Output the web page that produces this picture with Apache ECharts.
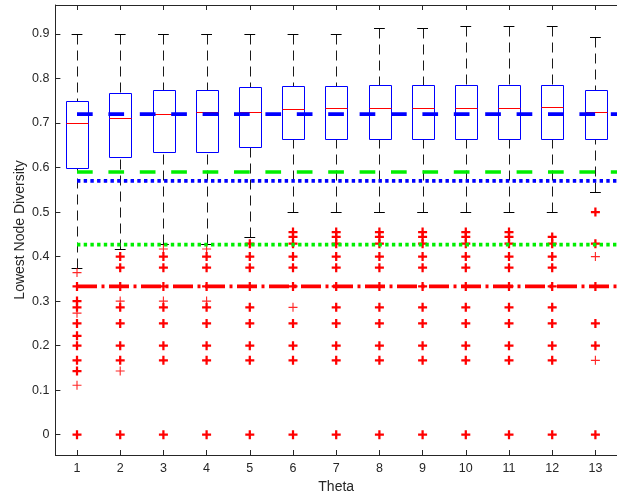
<!DOCTYPE html>
<html><head><meta charset="utf-8">
<script src="https://cdn.jsdelivr.net/npm/echarts@6/dist/echarts.min.js"></script>
<style>html,body{margin:0;padding:0;background:#fff}#c{width:617px;height:502px}</style>
</head><body><div id="c"></div>
<script>
// ---- data ----
const thetas = [1,2,3,4,5,6,7,8,9,10,11,12,13];
const yTicks = [0,0.1,0.2,0.3,0.4,0.5,0.6,0.7,0.8,0.9];
const whiskerLow  = [0.375,0.417,0.429,0.429,0.444,0.5,0.5,0.5,0.5,0.5,0.5,0.5,0.545];
const q1          = [0.600,0.624,0.635,0.635,0.646,0.665,0.665,0.665,0.665,0.665,0.665,0.665,0.665];
const medians     = [0.700,0.712,0.720,0.725,0.725,0.731,0.734,0.734,0.734,0.734,0.734,0.737,0.725];
const q3          = [0.750,0.767,0.775,0.775,0.780,0.783,0.783,0.786,0.786,0.786,0.786,0.786,0.775];
const whiskerHigh = [0.900,0.900,0.900,0.900,0.900,0.900,0.900,0.913,0.913,0.918,0.918,0.918,0.893];
const outliersMany = [
  [0.333,0.3,0.286,0.25,0.222,0.2,0.167,0.143,0],
  [0.4,0.375,0.333,0.286,0.25,0.2,0.167,0],
  [0.4,0.375,0.333,0.286,0.25,0.2,0.167,0],
  [0.4,0.375,0.333,0.286,0.25,0.2,0.167,0],
  [0.429,0.4,0.375,0.333,0.286,0.25,0.2,0.167,0],
  [0.455,0.444,0.429,0.4,0.375,0.333,0.25,0.2,0.167,0],
  [0.455,0.444,0.429,0.4,0.375,0.333,0.286,0.25,0.2,0.167,0],
  [0.455,0.444,0.429,0.4,0.375,0.333,0.286,0.25,0.2,0.167,0],
  [0.455,0.444,0.429,0.4,0.375,0.333,0.286,0.25,0.2,0.167,0],
  [0.455,0.444,0.429,0.4,0.375,0.333,0.286,0.25,0.2,0.167,0],
  [0.455,0.444,0.429,0.4,0.375,0.333,0.286,0.25,0.2,0.167,0],
  [0.444,0.429,0.4,0.375,0.333,0.286,0.25,0.2,0.167,0],
  [0.5,0.429,0.333,0.25,0.2,0]
];
const outliersSingle = [
  [0.364,0.273,0.111],
  [0.3,0.143],
  [0.417,0.3],
  [0.417,0.3],
  [],
  [0.286],
  [],[],[],[],[],[],
  [0.4,0.167]
];
const refBlueDashed = 0.72;
const refGreenDashed = 0.59;
const refBlueDotted = 0.57;
const refGreenDotted = 0.427;
const refRedDashDot = 0.333;

// ---- chart ----
const FONT = '"Liberation Sans", Arial, Helvetica, sans-serif';
const AXC = '#262626';
const chart = echarts.init(document.getElementById('c'), null, {renderer: 'canvas'});

const boxData = thetas.map((t, i) => [t, whiskerLow[i], q1[i], medians[i], q3[i], whiskerHigh[i]]);
const manyPts = [], singlePts = [];
thetas.forEach((t, i) => {
  outliersMany[i].forEach(v => manyPts.push([t, v]));
  outliersSingle[i].forEach(v => singlePts.push([t, v]));
});

const px = v => Math.round(v) + 0.5;

function renderBox(params, api) {
  const x = api.value(0);
  const c = api.coord([x, 0])[0];
  const hw = api.size([0.25, 0])[0];
  const cw = api.size([0.125, 0])[0];
  const yLo = api.coord([x, api.value(1)])[1];
  const yQ1 = api.coord([x, api.value(2)])[1];
  const yMed = api.coord([x, api.value(3)])[1];
  const yQ3 = api.coord([x, api.value(4)])[1];
  const yHi = api.coord([x, api.value(5)])[1];
  const cx = px(c);
  const whisk = {stroke: '#1a1a1a', lineWidth: 1, lineDash: [10, 6], fill: null};
  const cap = {stroke: '#000', lineWidth: 1, fill: null};
  return {
    type: 'group',
    children: [
      {type: 'line', shape: {x1: cx, y1: px(yHi), x2: cx, y2: px(yQ3)}, style: whisk},
      {type: 'line', shape: {x1: cx, y1: px(yLo), x2: cx, y2: px(yQ1)}, style: whisk},
      {type: 'line', shape: {x1: c - cw, y1: px(yHi), x2: c + cw, y2: px(yHi)}, style: cap},
      {type: 'line', shape: {x1: c - cw, y1: px(yLo), x2: c + cw, y2: px(yLo)}, style: cap},
      {type: 'rect', shape: {x: px(c - hw), y: px(yQ3), width: Math.round(2 * hw), height: Math.round(yQ1 - yQ3)},
        style: {stroke: '#0000ff', lineWidth: 1, fill: null}},
      {type: 'line', shape: {x1: px(c - hw), y1: px(yMed), x2: px(c - hw) + Math.round(2 * hw), y2: px(yMed)},
        style: {stroke: '#ff0000', lineWidth: 1}}
    ]
  };
}

function refLine(v, color, dash) {
  return {
    type: 'line', data: [[thetas[0], v], [13.5, v]], symbol: 'none', silent: true, z: 5,
    lineStyle: {color: color, width: 3.7, type: dash, cap: 'butt', opacity: 1}, animation: false
  };
}

const plusBold = 'path://M3,0H5V3H8V5H5V8H3V5H0V3H3Z';
const plusThin = 'path://M3.5,0H4.5V3.5H8V4.5H4.5V8H3.5V4.5H0V3.5H3.5Z';

const axisCommon = {
  type: 'value', min: 0.5, max: 13.5,
  splitLine: {show: false},
  axisLine: {show: true, onZero: false, lineStyle: {color: AXC, width: 1}},
  axisTick: {show: true, inside: true, length: 5, customValues: thetas, lineStyle: {color: AXC}},
};

chart.setOption({
  animation: false,
  backgroundColor: '#fff',
  grid: {left: 55.4, top: 5, width: 569.2, height: 450, containLabel: false},
  xAxis: [
    Object.assign({}, axisCommon, {
      position: 'bottom',
      name: 'Theta', nameLocation: 'middle', nameGap: 25,
      nameTextStyle: {fontFamily: FONT, fontSize: 14, color: AXC},
      axisLabel: {customValues: thetas, margin: 7, fontFamily: FONT, fontSize: 12.5, color: AXC}
    }),
    Object.assign({}, axisCommon, {
      position: 'top',
      axisLabel: {show: false}
    })
  ],
  yAxis: {
    type: 'value', min: -0.0456, max: 0.965,
    splitLine: {show: false},
    axisLine: {show: true, onZero: false, lineStyle: {color: AXC, width: 1}},
    axisTick: {show: true, inside: true, length: 5, customValues: yTicks, lineStyle: {color: AXC}},
    axisLabel: {customValues: yTicks, margin: 6, fontFamily: FONT, fontSize: 12.5, color: AXC},
    name: 'Lowest Node Diversity', nameLocation: 'middle', nameGap: 28, nameMoveOverlap: false,
    nameTextStyle: {fontFamily: FONT, fontSize: 14, color: AXC}
  },
  series: [
    {type: 'custom', renderItem: renderBox, data: boxData, encode: {x: 0, y: [1,2,3,4,5]}, z: 2, silent: true},
    {type: 'scatter', data: manyPts, symbol: plusBold, symbolSize: 9, itemStyle: {color: '#ff0000', opacity: 1}, z: 3, silent: true},
    {type: 'scatter', data: singlePts, symbol: plusThin, symbolSize: 9, itemStyle: {color: '#ff0000', opacity: 0.85}, z: 3, silent: true},
    refLine(refBlueDashed, '#0000ff', [15.7, 15.7]),
    refLine(refGreenDashed, '#00ee00', [15.7, 15.7]),
    refLine(refBlueDotted, '#0000ff', [3.4, 3.3]),
    refLine(refGreenDotted, '#00ee00', [3.4, 3.3]),
    refLine(refRedDashDot, '#ff0000', [20, 4.5, 3, 4.5])
  ]
});
</script>
</body></html>
